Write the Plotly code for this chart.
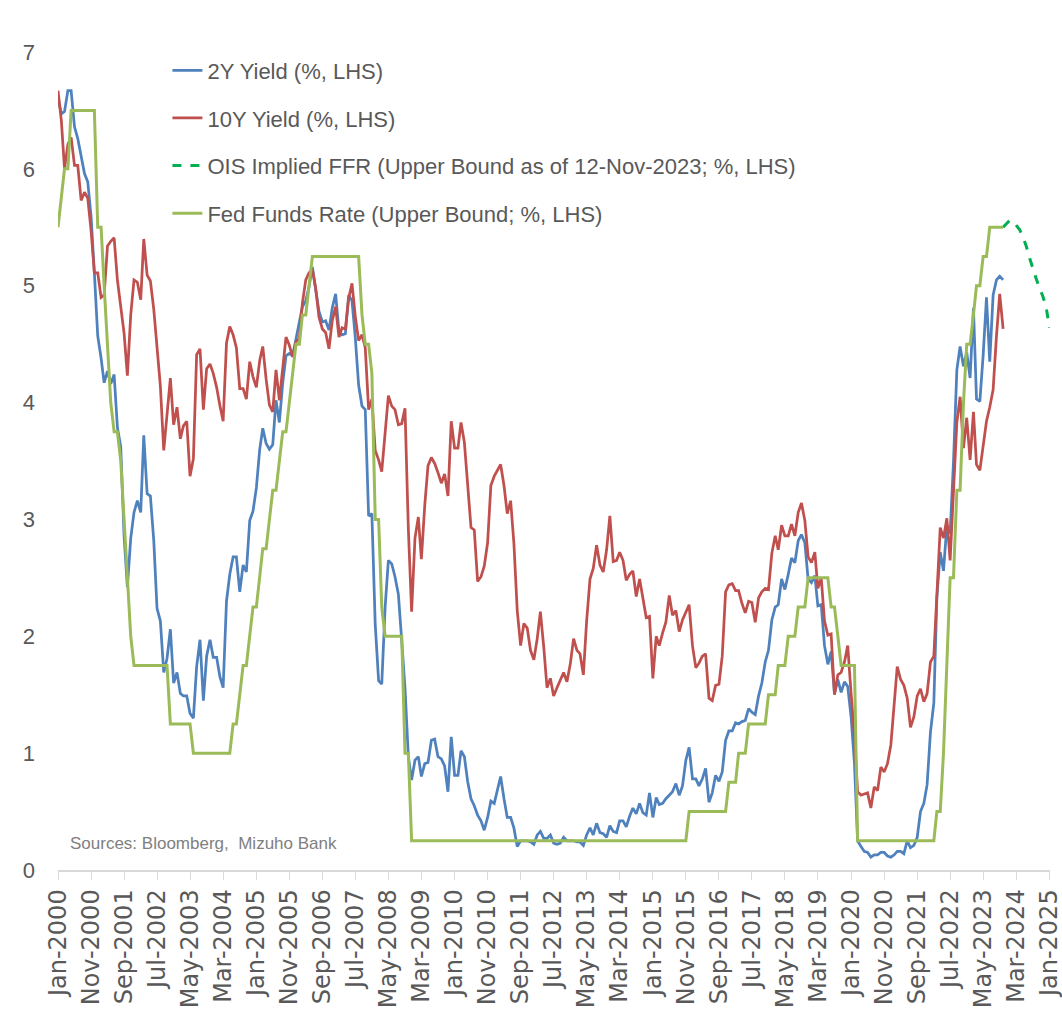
import pandas as pd
import plotly.graph_objects as go

# ---------------- data (month-end, %) ----------------
two_year = [
    6.61, 6.47, 6.49, 6.67, 6.67, 6.36, 6.26, 6.12, 5.96, 5.89, 5.59, 5.11,  # 2000
    4.57, 4.38, 4.17, 4.27, 4.16, 4.24, 3.79, 3.62, 2.85, 2.42, 2.84, 3.06,  # 2001
    3.16, 3.06, 3.72, 3.22, 3.20, 2.82, 2.24, 2.13, 1.69, 1.81, 2.06, 1.60,  # 2002
    1.69, 1.51, 1.49, 1.49, 1.34, 1.30, 1.74, 1.97, 1.45, 1.83, 1.97, 1.82,  # 2003
    1.82, 1.65, 1.56, 2.30, 2.53, 2.68, 2.68, 2.38, 2.61, 2.55, 2.99, 3.07,  # 2004
    3.27, 3.60, 3.78, 3.65, 3.60, 3.64, 4.02, 3.83, 4.17, 4.40, 4.42, 4.40,  # 2005
    4.53, 4.69, 4.82, 4.87, 4.99, 5.16, 4.97, 4.78, 4.69, 4.70, 4.62, 4.81,  # 2006
    4.93, 4.61, 4.58, 4.59, 4.92, 4.87, 4.56, 4.15, 3.97, 3.94, 3.03, 3.05,  # 2007
    2.10, 1.62, 1.59, 2.25, 2.65, 2.62, 2.51, 2.36, 1.96, 1.56, 0.97, 0.77,  # 2008
    0.94, 0.97, 0.80, 0.91, 0.92, 1.11, 1.12, 0.97, 0.95, 0.89, 0.67, 1.14,  # 2009
    0.81, 0.81, 1.02, 0.97, 0.76, 0.61, 0.55, 0.47, 0.42, 0.34, 0.45, 0.59,  # 2010
    0.57, 0.69, 0.80, 0.61, 0.45, 0.45, 0.36, 0.20, 0.25, 0.25, 0.25, 0.24,  # 2011
    0.22, 0.30, 0.33, 0.27, 0.27, 0.30, 0.23, 0.22, 0.23, 0.28, 0.25, 0.25,  # 2012
    0.25, 0.24, 0.24, 0.21, 0.30, 0.36, 0.30, 0.40, 0.32, 0.31, 0.28, 0.38,  # 2013
    0.33, 0.32, 0.42, 0.42, 0.37, 0.46, 0.53, 0.48, 0.57, 0.49, 0.47, 0.66,  # 2014
    0.45, 0.62, 0.56, 0.57, 0.61, 0.64, 0.67, 0.74, 0.64, 0.72, 0.94, 1.05,  # 2015
    0.78, 0.78, 0.72, 0.78, 0.87, 0.58, 0.66, 0.81, 0.76, 0.84, 1.11, 1.19,  # 2016
    1.19, 1.26, 1.25, 1.27, 1.28, 1.38, 1.35, 1.33, 1.49, 1.60, 1.78, 1.88,  # 2017
    2.14, 2.25, 2.27, 2.49, 2.40, 2.53, 2.67, 2.63, 2.82, 2.87, 2.80, 2.49,  # 2018
    2.46, 2.52, 2.26, 2.27, 1.92, 1.76, 1.87, 1.51, 1.63, 1.52, 1.61, 1.57,  # 2019
    1.31, 0.91, 0.25, 0.20, 0.16, 0.15, 0.11, 0.13, 0.13, 0.15, 0.15, 0.12,  # 2020
    0.11, 0.13, 0.16, 0.16, 0.14, 0.25, 0.19, 0.21, 0.28, 0.50, 0.57, 0.73,  # 2021
    1.18, 1.43, 2.33, 2.72, 2.56, 2.95, 2.88, 3.49, 4.28, 4.48, 4.31, 4.43,  # 2022
    4.21, 4.81, 4.03, 4.01, 4.40, 4.90, 4.35, 4.92, 5.05, 5.08, 5.05,        # 2023
]

ten_year = [
    6.67, 6.41, 6.00, 6.21, 6.27, 6.03, 6.03, 5.73, 5.80, 5.75, 5.47, 5.11,  # 2000
    5.11, 4.90, 4.92, 5.34, 5.38, 5.41, 5.05, 4.83, 4.59, 4.23, 4.75, 5.05,  # 2001
    5.03, 4.88, 5.40, 5.09, 5.04, 4.80, 4.46, 4.14, 3.59, 3.89, 4.21, 3.81,  # 2002
    3.96, 3.69, 3.80, 3.84, 3.37, 3.52, 4.41, 4.46, 3.94, 4.29, 4.33, 4.25,  # 2003
    4.13, 3.97, 3.84, 4.51, 4.65, 4.58, 4.47, 4.12, 4.12, 4.03, 4.35, 4.22,  # 2004
    4.13, 4.36, 4.48, 4.20, 3.98, 3.92, 4.28, 4.02, 4.32, 4.56, 4.49, 4.39,  # 2005
    4.52, 4.55, 4.85, 5.05, 5.11, 5.14, 4.98, 4.73, 4.63, 4.60, 4.46, 4.70,  # 2006
    4.82, 4.56, 4.64, 4.63, 4.89, 5.02, 4.74, 4.53, 4.58, 4.47, 3.94, 4.03,  # 2007
    3.59, 3.51, 3.41, 3.73, 4.06, 3.97, 3.94, 3.81, 3.82, 3.95, 2.92, 2.21,  # 2008
    2.84, 3.02, 2.66, 3.12, 3.46, 3.53, 3.48, 3.40, 3.31, 3.39, 3.20, 3.84,  # 2009
    3.61, 3.61, 3.83, 3.66, 3.29, 2.93, 2.91, 2.47, 2.51, 2.60, 2.80, 3.29,  # 2010
    3.37, 3.42, 3.47, 3.29, 3.05, 3.16, 2.80, 2.22, 1.92, 2.11, 2.07, 1.88,  # 2011
    1.80, 1.98, 2.21, 1.91, 1.56, 1.64, 1.49, 1.56, 1.63, 1.69, 1.61, 1.76,  # 2012
    1.98, 1.88, 1.85, 1.67, 2.13, 2.49, 2.58, 2.78, 2.61, 2.55, 2.74, 3.03,  # 2013
    2.64, 2.65, 2.72, 2.65, 2.48, 2.53, 2.56, 2.34, 2.49, 2.34, 2.16, 2.17,  # 2014
    1.64, 2.00, 1.92, 2.03, 2.12, 2.35, 2.18, 2.22, 2.04, 2.14, 2.21, 2.27,  # 2015
    1.92, 1.73, 1.77, 1.83, 1.85, 1.47, 1.45, 1.58, 1.59, 1.83, 2.38, 2.44,  # 2016
    2.45, 2.39, 2.39, 2.28, 2.20, 2.30, 2.29, 2.12, 2.33, 2.38, 2.41, 2.40,  # 2017
    2.71, 2.86, 2.74, 2.95, 2.86, 2.86, 2.96, 2.86, 3.06, 3.14, 2.99, 2.68,  # 2018
    2.63, 2.72, 2.41, 2.50, 2.13, 2.01, 2.02, 1.50, 1.67, 1.69, 1.78, 1.92,  # 2019
    1.51, 1.15, 0.67, 0.64, 0.65, 0.66, 0.53, 0.71, 0.68, 0.88, 0.84, 0.91,  # 2020
    1.07, 1.41, 1.74, 1.63, 1.58, 1.47, 1.22, 1.31, 1.49, 1.55, 1.44, 1.51,  # 2021
    1.78, 1.83, 2.34, 2.93, 2.84, 3.01, 2.65, 3.19, 3.83, 4.05, 3.61, 3.87,  # 2022
    3.51, 3.92, 3.47, 3.42, 3.64, 3.84, 3.96, 4.11, 4.57, 4.93, 4.63,        # 2023
]

fed_funds = [
    5.50, 5.75, 6.00, 6.00, 6.50, 6.50, 6.50, 6.50, 6.50, 6.50, 6.50, 6.50,  # 2000
    5.50, 5.50, 5.00, 4.50, 4.00, 3.75, 3.75, 3.50, 3.00, 2.50, 2.00, 1.75,  # 2001
    1.75, 1.75, 1.75, 1.75, 1.75, 1.75, 1.75, 1.75, 1.75, 1.75, 1.25, 1.25,  # 2002
    1.25, 1.25, 1.25, 1.25, 1.25, 1.00, 1.00, 1.00, 1.00, 1.00, 1.00, 1.00,  # 2003
    1.00, 1.00, 1.00, 1.00, 1.00, 1.25, 1.25, 1.50, 1.75, 1.75, 2.00, 2.25,  # 2004
    2.25, 2.50, 2.75, 2.75, 3.00, 3.25, 3.25, 3.50, 3.75, 3.75, 4.00, 4.25,  # 2005
    4.50, 4.50, 4.75, 4.75, 5.00, 5.25, 5.25, 5.25, 5.25, 5.25, 5.25, 5.25,  # 2006
    5.25, 5.25, 5.25, 5.25, 5.25, 5.25, 5.25, 5.25, 4.75, 4.50, 4.50, 4.25,  # 2007
    3.00, 3.00, 2.25, 2.00, 2.00, 2.00, 2.00, 2.00, 2.00, 1.00, 1.00, 0.25,  # 2008
    0.25, 0.25, 0.25, 0.25, 0.25, 0.25, 0.25, 0.25, 0.25, 0.25, 0.25, 0.25,  # 2009
    0.25, 0.25, 0.25, 0.25, 0.25, 0.25, 0.25, 0.25, 0.25, 0.25, 0.25, 0.25,  # 2010
    0.25, 0.25, 0.25, 0.25, 0.25, 0.25, 0.25, 0.25, 0.25, 0.25, 0.25, 0.25,  # 2011
    0.25, 0.25, 0.25, 0.25, 0.25, 0.25, 0.25, 0.25, 0.25, 0.25, 0.25, 0.25,  # 2012
    0.25, 0.25, 0.25, 0.25, 0.25, 0.25, 0.25, 0.25, 0.25, 0.25, 0.25, 0.25,  # 2013
    0.25, 0.25, 0.25, 0.25, 0.25, 0.25, 0.25, 0.25, 0.25, 0.25, 0.25, 0.25,  # 2014
    0.25, 0.25, 0.25, 0.25, 0.25, 0.25, 0.25, 0.25, 0.25, 0.25, 0.25, 0.50,  # 2015
    0.50, 0.50, 0.50, 0.50, 0.50, 0.50, 0.50, 0.50, 0.50, 0.50, 0.50, 0.75,  # 2016
    0.75, 0.75, 1.00, 1.00, 1.00, 1.25, 1.25, 1.25, 1.25, 1.25, 1.25, 1.50,  # 2017
    1.50, 1.50, 1.75, 1.75, 1.75, 2.00, 2.00, 2.00, 2.25, 2.25, 2.25, 2.50,  # 2018
    2.50, 2.50, 2.50, 2.50, 2.50, 2.50, 2.25, 2.25, 2.00, 1.75, 1.75, 1.75,  # 2019
    1.75, 1.75, 0.25, 0.25, 0.25, 0.25, 0.25, 0.25, 0.25, 0.25, 0.25, 0.25,  # 2020
    0.25, 0.25, 0.25, 0.25, 0.25, 0.25, 0.25, 0.25, 0.25, 0.25, 0.25, 0.25,  # 2021
    0.25, 0.25, 0.50, 0.50, 1.00, 1.75, 2.50, 2.50, 3.25, 3.25, 4.00, 4.50,  # 2022
    4.50, 4.75, 5.00, 5.00, 5.25, 5.25, 5.50, 5.50, 5.50, 5.50, 5.50,        # 2023
]

# OIS-implied FFR path (upper bound) as of 12-Nov-2023, Nov-2023 .. Jan-2025
ois_implied = [5.50, 5.53, 5.56, 5.55, 5.52, 5.48, 5.42, 5.34, 5.24, 5.14,
               5.06, 4.98, 4.91, 4.82, 4.64]

series_names = [
    "2Y Yield (%, LHS)",
    "10Y Yield (%, LHS)",
    "OIS Implied FFR (Upper Bound as of 12-Nov-2023; %, LHS)",
    "Fed Funds Rate (Upper Bound; %, LHS)",
]
source_note = "Sources: Bloomberg,  Mizuho Bank"

months = pd.date_range("2000-01-01", periods=len(two_year), freq="MS")
ois_months = pd.date_range("2023-11-01", periods=len(ois_implied), freq="MS")

BLUE = "#4F81BD"
RED = "#C0504D"
OIS_GREEN = "#00B050"
FFR_GREEN = "#9BBB59"
TEXT = "#595959"
NARROW = "Liberation Sans Narrow, Arial Narrow, Liberation Sans, Arial, sans-serif"

fig = go.Figure()
fig.add_trace(go.Scatter(x=months, y=two_year, mode="lines", name=series_names[0],
                         line=dict(color=BLUE, width=2.75), legendgroup="a"))
fig.add_trace(go.Scatter(x=months, y=ten_year, mode="lines", name=series_names[1],
                         line=dict(color=RED, width=2.75), legendgroup="b"))
fig.add_trace(go.Scatter(x=ois_months, y=ois_implied, mode="lines", name=series_names[2],
                         line=dict(color=OIS_GREEN, width=3, dash="dash"), legendgroup="c"))
fig.add_trace(go.Scatter(x=months, y=fed_funds, mode="lines", name=series_names[3],
                         line=dict(color=FFR_GREEN, width=3), legendgroup="d"))

fig.add_annotation(text=source_note, xref="paper", yref="y", x=0.01, y=0.23,
                   xanchor="left", yanchor="middle", showarrow=False,
                   font=dict(family=NARROW, size=17, color="#808080"))

fig.update_layout(
    width=1062, height=1021,
    margin=dict(l=58, r=12, t=52, b=151, autoexpand=False),
    paper_bgcolor="white", plot_bgcolor="white",
    showlegend=True,
    legend=dict(x=0.1103, y=1.003, xanchor="left", yanchor="top",
                bgcolor="rgba(0,0,0,0)", traceorder="grouped", tracegroupgap=16,
                font=dict(family=NARROW, size=22, color=TEXT)),
    xaxis=dict(type="date", range=["2000-01-01", "2025-01-06"],
               tick0="2000-01-01", dtick="M10", tickformat="%b-%Y",
               tickangle=-90, showgrid=False, zeroline=False,
               showline=True, linecolor="#D9D9D9", linewidth=1.5,
               ticks="outside", ticklen=8, tickcolor="#D9D9D9", tickwidth=1,
               ticklabeloverflow="allow", automargin=False,
               tickfont=dict(family="DejaVu Sans", size=24, color=TEXT)),
    yaxis=dict(range=[0, 7], dtick=1, showgrid=False, zeroline=False,
               showline=False, ticks="", ticklabelstandoff=22, automargin=False,
               tickfont=dict(family=NARROW, size=22, color=TEXT)),
)

fig.write_html("out.html")
